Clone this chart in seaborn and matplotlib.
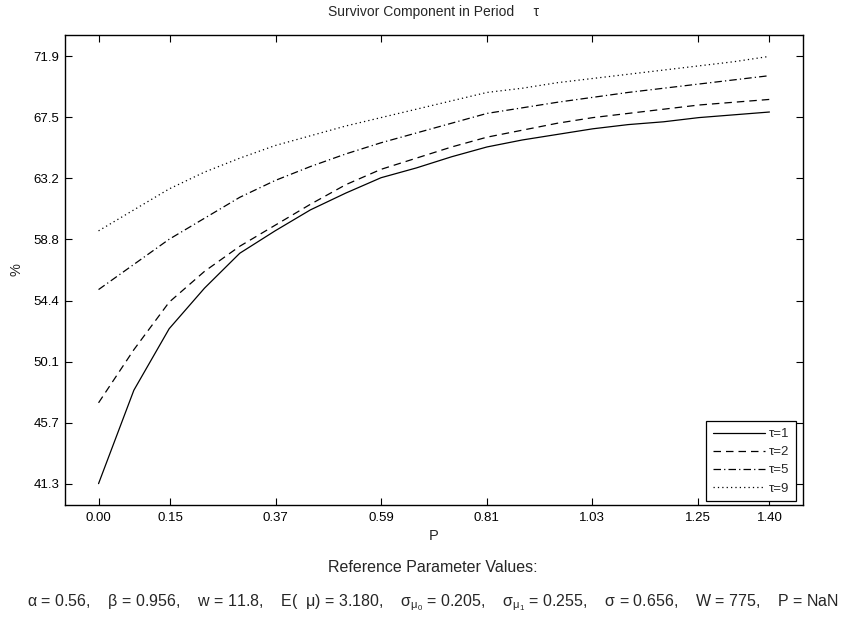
import numpy as np
import pandas as pd
import matplotlib
matplotlib.use("Agg")
import matplotlib.pyplot as plt
import seaborn as sns

# P grid (20 points from 0 to 1.4)
p_values = np.linspace(0.0, 1.4, 20)

tau1 = [41.32, 48.0, 52.4, 55.3, 57.8, 59.4, 60.9, 62.1, 63.2, 63.9,
        64.7, 65.4, 65.9, 66.3, 66.7, 67.0, 67.2, 67.5, 67.7, 67.9]
tau2 = [47.1, 50.9, 54.3, 56.5, 58.3, 59.8, 61.3, 62.7, 63.8, 64.6,
        65.4, 66.1, 66.6, 67.1, 67.5, 67.8, 68.1, 68.4, 68.6, 68.8]
tau5 = [55.2, 57.0, 58.8, 60.3, 61.8, 63.0, 64.0, 64.9, 65.7, 66.4,
        67.1, 67.8, 68.2, 68.6, 68.95, 69.3, 69.6, 69.9, 70.2, 70.5]
tau9 = [59.4, 60.9, 62.4, 63.6, 64.6, 65.5, 66.2, 66.9, 67.5, 68.1,
        68.7, 69.3, 69.6, 70.0, 70.3, 70.6, 70.9, 71.2, 71.5, 71.88]

series_names = ["τ=1", "τ=2", "τ=5", "τ=9"]
xtick_vals = [0.00, 0.15, 0.37, 0.59, 0.81, 1.03, 1.25, 1.40]
ytick_labels = ["41.3", "45.7", "50.1", "54.4", "58.8", "63.2", "67.5", "71.9"]

df = pd.concat(
    [pd.DataFrame({"P": p_values, "pct": vals, "tau": name})
     for name, vals in zip(series_names, [tau1, tau2, tau5, tau9])],
    ignore_index=True,
)

sns.set_style("ticks")
plt.rcParams["font.family"] = ["Liberation Sans", "DejaVu Sans"]
plt.rcParams["mathtext.fontset"] = "custom"
plt.rcParams["mathtext.rm"] = "Liberation Sans"
plt.rcParams["mathtext.it"] = "Liberation Sans"

fig = plt.figure(figsize=(8.47, 6.19), dpi=100)
ax = fig.add_axes([65 / 847, 1 - 505 / 619, 738 / 847, 470 / 619])

dash_map = {"τ=1": "", "τ=2": (6, 4), "τ=5": (6, 2.5, 1, 2.5), "τ=9": (1, 2.5)}
sns.lineplot(data=df, x="P", y="pct", style="tau", dashes=dash_map,
             color="black", linewidth=0.9, ax=ax, legend=True)

# axis limits: data range plus 5% padding
xmin, xmax = p_values.min(), p_values.max()
ymin, ymax = df["pct"].min(), df["pct"].max()
xr, yr = xmax - xmin, ymax - ymin
ax.set_xlim(xmin - 0.05 * xr, xmax + 0.05 * xr)
ax.set_ylim(ymin - 0.05 * yr, ymax + 0.05 * yr)

ax.set_xticks(xtick_vals)
ax.set_xticklabels([f"{v:.2f}" for v in xtick_vals])
ax.set_yticks(np.linspace(ymin, ymax, 8))
ax.set_yticklabels(ytick_labels)
ax.tick_params(direction="in", length=5, width=0.8, top=True, right=True,
               labelsize=9.5, colors="black", pad=5)
ax.tick_params(axis="y", pad=4)
for s in ax.spines.values():
    s.set_linewidth(1.0)
    s.set_color("black")

ax.set_xlabel("P", fontsize=10.5, labelpad=4)
ax.set_ylabel("%", fontsize=10.5, labelpad=7)
ax.set_title("Survivor Component in Period     τ", fontsize=10, pad=14)

handles, labels = ax.get_legend_handles_labels()
leg = ax.legend(handles, labels, loc="lower right", bbox_to_anchor=(0.991, 0.008),
                borderaxespad=0, fontsize=9.5, handlelength=4.0, labelspacing=0.45,
                handletextpad=0.3, borderpad=0.5, fancybox=False, framealpha=1)
leg.get_frame().set_edgecolor("black")
leg.get_frame().set_linewidth(0.9)

fig.text(0.511, 1 - 568 / 619, "Reference Parameter Values:", ha="center",
         va="center", fontsize=11.5)
params = (r"α = 0.56,    β = 0.956,    w = 11.8,    E(  μ) = 3.180,    σ$_{μ_0}$ = 0.205,    "
          r"σ$_{μ_1}$ = 0.255,    σ = 0.656,    W = 775,    P = NaN")
fig.text(0.511, 1 - 603 / 619, params, ha="center", va="center", fontsize=11.5)

fig.savefig("out.png", dpi=100)
